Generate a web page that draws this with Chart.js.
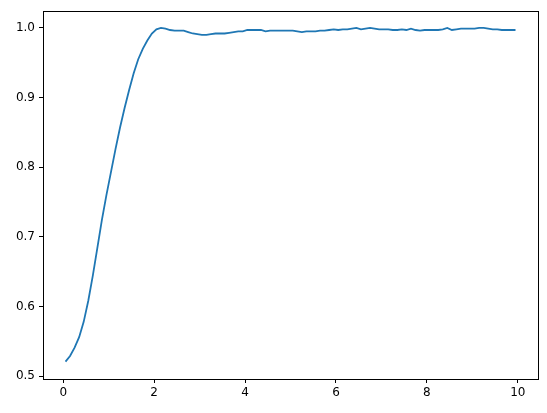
<!DOCTYPE html>
<html>
<head>
<meta charset="utf-8">
<script src="https://cdn.jsdelivr.net/npm/chart.js@4"></script>
<style>
  html, body { margin: 0; padding: 0; background: #fff; }
  #wrap { width: 547px; height: 413px; }
</style>
</head>
<body>
<div id="wrap"><canvas id="c" width="547" height="413"></canvas></div>
<script>
const xValues = [];
for (let i = 0; i < 100; i++) xValues.push(Math.round((0.05 + 0.1 * i) * 100) / 100);

const yValues = [
  0.521, 0.529, 0.541, 0.556, 0.578, 0.608, 0.644, 0.684, 0.724, 0.760,
  0.793, 0.826, 0.857, 0.885, 0.911, 0.935, 0.955, 0.970, 0.982, 0.992,
  0.998, 1.000, 0.999, 0.997, 0.996, 0.996, 0.996, 0.994, 0.992, 0.991,
  0.990, 0.990, 0.991, 0.992, 0.992, 0.992, 0.993, 0.994, 0.995, 0.995,
  0.997, 0.997, 0.997, 0.997, 0.995, 0.996, 0.996, 0.996, 0.996, 0.996,
  0.996, 0.995, 0.994, 0.995, 0.995, 0.995, 0.996, 0.996, 0.997, 0.998,
  0.997, 0.998, 0.998, 0.999, 1.000, 0.998, 0.999, 1.000, 0.999, 0.998,
  0.998, 0.998, 0.997, 0.997, 0.998, 0.997, 0.999, 0.997, 0.996, 0.997,
  0.997, 0.997, 0.997, 0.998, 1.000, 0.997, 0.998, 0.999, 0.999, 0.999,
  0.999, 1.000, 1.000, 0.999, 0.998, 0.998, 0.997, 0.997, 0.997, 0.997
];

const xTicks = [0, 2, 4, 6, 8, 10];
const yTicks = [0.5, 0.6, 0.7, 0.8, 0.9, 1.0];

const points = xValues.map((x, i) => ({ x: x, y: yValues[i] }));

const framePlugin = {
  id: 'frame',
  afterDraw(chart) {
    const a = chart.chartArea;
    const ctx = chart.ctx;
    ctx.save();
    ctx.strokeStyle = '#000';
    ctx.lineWidth = 1;
    ctx.strokeRect(Math.round(a.left) + 0.5, Math.round(a.top) + 0.5,
                   Math.round(a.right - a.left), Math.round(a.bottom - a.top));
    ctx.restore();
  }
};

const font = { family: 'DejaVu Sans', size: 12 };

new Chart(document.getElementById('c'), {
  type: 'line',
  data: {
    datasets: [{
      data: points,
      borderColor: '#1f77b4',
      borderWidth: 1.8,
      pointRadius: 0,
      fill: false,
      tension: 0
    }]
  },
  options: {
    responsive: false,
    animation: false,
    events: [],
    layout: { padding: { top: 10, right: 9, left: 0, bottom: 0 } },
    plugins: { legend: { display: false }, tooltip: { enabled: false } },
    scales: {
      x: {
        type: 'linear',
        min: -0.445,
        max: 10.445,
        afterBuildTicks: (s) => { s.ticks = xTicks.map(v => ({ value: v })); },
        afterFit: (s) => { s.height = 34; },
        ticks: { color: '#000', font: font, padding: 3, maxRotation: 0,
                 callback: (v) => String(v) },
        grid: { display: true, drawOnChartArea: false, drawTicks: true,
                tickLength: 4, color: '#000' },
        border: { display: true, color: '#000', width: 1 }
      },
      y: {
        type: 'linear',
        min: 0.496,
        max: 1.024,
        afterBuildTicks: (s) => { s.ticks = yTicks.map(v => ({ value: v })); },
        afterFit: (s) => { s.width = 43; },
        ticks: { color: '#000', font: font, padding: 4,
                 callback: (v) => Number(v).toFixed(1) },
        grid: { display: true, drawOnChartArea: false, drawTicks: true,
                tickLength: 4, color: '#000' },
        border: { display: true, color: '#000', width: 1 }
      }
    }
  },
  plugins: [framePlugin]
});
</script>
</body>
</html>
